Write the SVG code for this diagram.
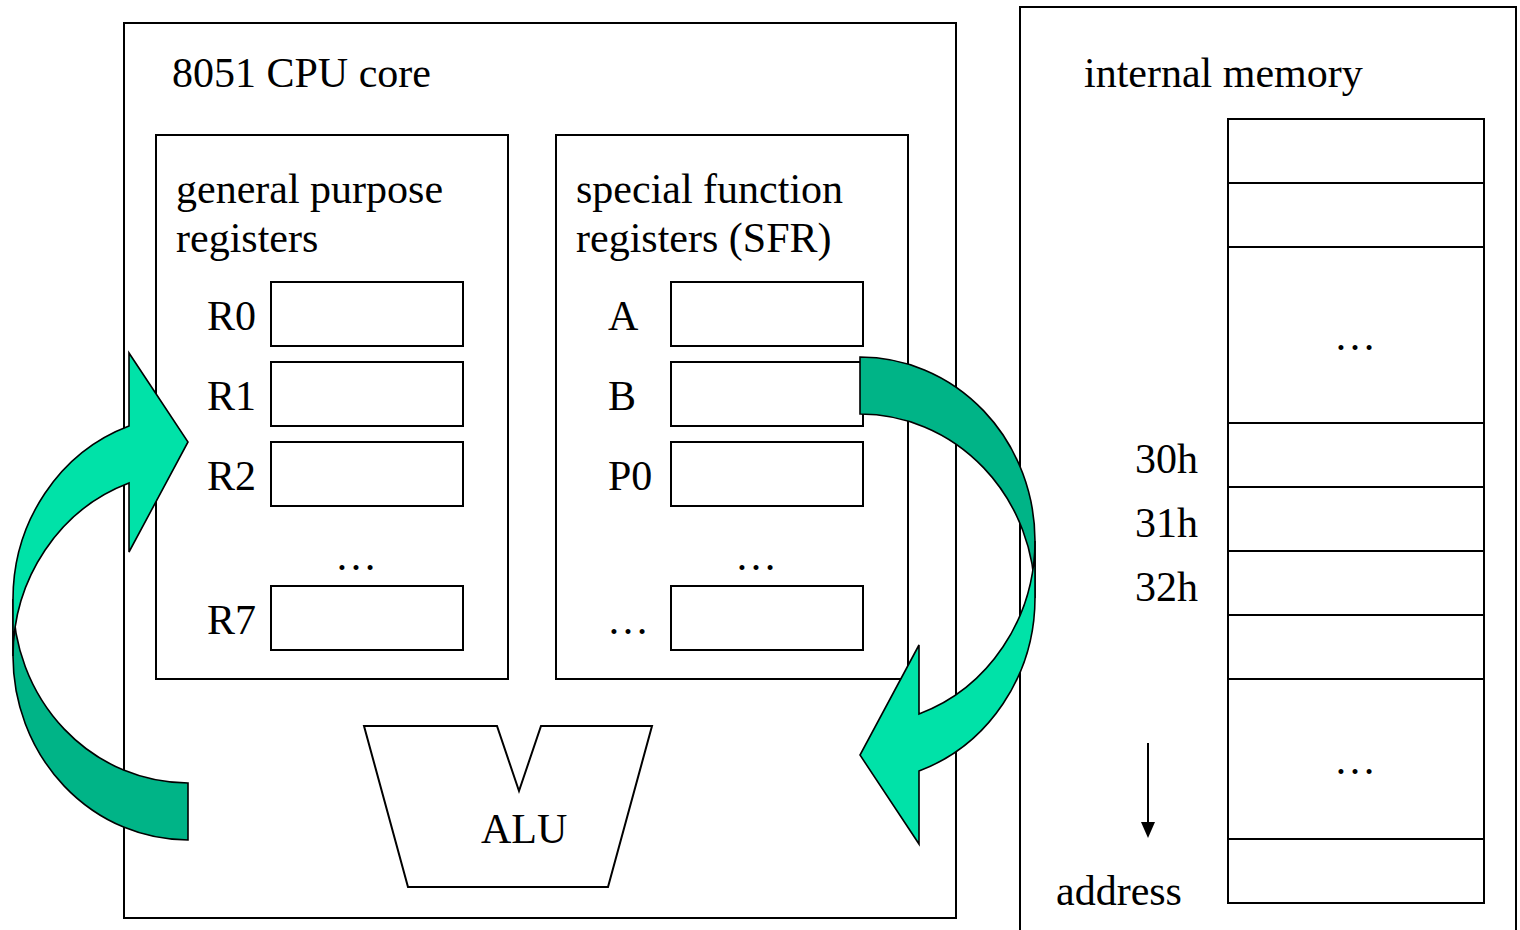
<svg xmlns="http://www.w3.org/2000/svg" width="1520" height="930" viewBox="0 0 1520 930">
  <defs>
    <style>
      .box { fill: none; stroke: #000; stroke-width: 2; }
      .reg { fill: #fff; stroke: #000; stroke-width: 2; }
      .t { font-family: "Liberation Serif", "Times New Roman", serif; font-size: 42px; fill: #000; }
      .light { fill: #00E2A8; stroke: #000; stroke-width: 1.6; stroke-linejoin: miter; }
      .dark { fill: #00B487; stroke: #000; stroke-width: 1.6; }
      .ln { stroke: #000; stroke-width: 2; fill: none; }
    </style>
    <g id="curved">
      <path class="dark" d="M188,840 A175,184 0 0 1 13,656 L13,599 A175,184 0 0 0 188,783 Z"/>
      <path class="light" d="M13,599 A175,184 0 0 1 129,426 L129,353 L188,442 L129,552 L129,483 A175,184 0 0 0 13,656 Z"/>
    </g>
  </defs>

  <rect width="1520" height="930" fill="#fff"/>

  <g id="cpu-core">
    <rect class="box" x="124" y="23" width="832" height="895"/>
    <text class="t" x="172" y="87">8051 CPU core</text>
  </g>

  <g id="general-purpose-registers">
    <rect class="box" x="156" y="135" width="352" height="544"/>
    <text class="t" x="176" y="203">general purpose</text>
    <text class="t" x="176" y="252">registers</text>
    <text class="t" x="207" y="330">R0</text>
    <rect class="reg" x="271" y="282" width="192" height="64"/>
    <text class="t" x="207" y="410">R1</text>
    <rect class="reg" x="271" y="362" width="192" height="64"/>
    <text class="t" x="207" y="490">R2</text>
    <rect class="reg" x="271" y="442" width="192" height="64"/>
    <text class="t" x="356" y="570" text-anchor="middle">…</text>
    <text class="t" x="207" y="634">R7</text>
    <rect class="reg" x="271" y="586" width="192" height="64"/>
  </g>

  <g id="sfr">
    <rect class="box" x="556" y="135" width="352" height="544"/>
    <text class="t" x="576" y="203">special function</text>
    <text class="t" x="576" y="252">registers (SFR)</text>
    <text class="t" x="608" y="330">A</text>
    <rect class="reg" x="671" y="282" width="192" height="64"/>
    <text class="t" x="608" y="410">B</text>
    <rect class="reg" x="671" y="362" width="192" height="64"/>
    <text class="t" x="608" y="490">P0</text>
    <rect class="reg" x="671" y="442" width="192" height="64"/>
    <text class="t" x="756" y="570" text-anchor="middle">…</text>
    <text class="t" x="628" y="634" text-anchor="middle">…</text>
    <rect class="reg" x="671" y="586" width="192" height="64"/>
  </g>

  <g id="alu">
    <polygon class="reg" points="364,726 497,726 519,791 541,726 652,726 608,887 408,887"/>
    <text class="t" x="481" y="843">ALU</text>
  </g>

  <g id="internal-memory">
    <rect class="box" x="1020" y="7" width="496" height="935"/>
    <text class="t" x="1084" y="87">internal memory</text>
    <rect class="reg" x="1228" y="119" width="256" height="784"/>
    <path class="ln" d="M1228,183 H1484 M1228,247 H1484 M1228,423 H1484 M1228,487 H1484 M1228,551 H1484 M1228,615 H1484 M1228,679 H1484 M1228,839 H1484"/>
    <text class="t" x="1355" y="350" text-anchor="middle">…</text>
    <text class="t" x="1355" y="774" text-anchor="middle">…</text>
    <text class="t" x="1135" y="473">30h</text>
    <text class="t" x="1135" y="537">31h</text>
    <text class="t" x="1135" y="601">32h</text>
    <text class="t" x="1056" y="905">address</text>
  </g>

  <g id="connectors">
    <line class="ln" x1="1148" y1="743" x2="1148" y2="824"/>
    <polygon points="1141,822 1155,822 1148,838" fill="#000"/>
    <use href="#curved"/>
    <use href="#curved" transform="matrix(-1 0 0 -1 1048 1197)"/>
  </g>
</svg>
